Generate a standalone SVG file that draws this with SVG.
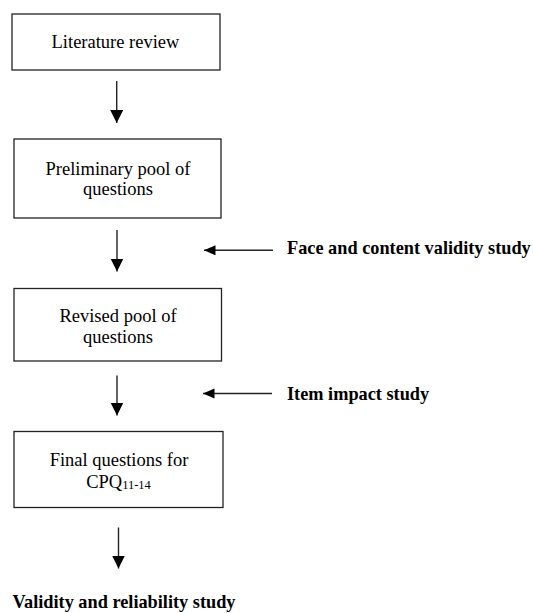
<svg xmlns="http://www.w3.org/2000/svg" width="533" height="613" viewBox="0 0 533 613">
<defs>
<style>
.box{fill:#fff;stroke:#222;stroke-width:1.3}
.t{font-family:"Liberation Serif","Times New Roman",serif;font-size:18.5px;fill:#000;text-anchor:middle}
.b{font-family:"Liberation Serif","Times New Roman",serif;font-size:18.3px;font-weight:bold;fill:#000}
.sub{font-size:12.5px}
.ln{stroke:#222;stroke-width:1.4;fill:none}
</style>
<marker id="hv" markerUnits="userSpaceOnUse" markerWidth="14" markerHeight="14" viewBox="0 0 14 14" refX="13" refY="6.5" orient="auto">
<path d="M0,0 L13,6.5 L0,13 z" fill="#000"/>
</marker>
<marker id="hh" markerUnits="userSpaceOnUse" markerWidth="12" markerHeight="11" viewBox="0 0 12 11" refX="11.5" refY="5" orient="auto">
<path d="M0,0 L11.5,5 L0,10 z" fill="#000"/>
</marker>
</defs>
<rect width="533" height="613" fill="#fff"/>
<g id="n1">
<rect class="box" x="12" y="14" width="208" height="56"/>
<text class="t" x="115.5" y="47.5">Literature review</text>
</g>
<g id="n2">
<rect class="box" x="14" y="139" width="207" height="79"/>
<text class="t" x="118" y="174.5">Preliminary pool of</text>
<text class="t" x="118" y="195">questions</text>
</g>
<g id="n3">
<rect class="box" x="14" y="288.5" width="207.5" height="72.5"/>
<text class="t" x="118" y="321.7">Revised pool of</text>
<text class="t" x="118" y="343.3">questions</text>
</g>
<g id="n4">
<rect class="box" x="14" y="431.5" width="209" height="76"/>
<text class="t" x="119" y="465.7">Final questions for</text>
<text class="t" x="118.5" y="488.3">CPQ<tspan class="sub" dy="1">11-14</tspan></text>
</g>
<g id="l1"><text class="b" x="287" y="253.5">Face and content validity study</text></g>
<g id="l2"><text class="b" x="287" y="400">Item impact study</text></g>
<g id="l3"><text class="b" x="12.5" y="607.5">Validity and reliability study</text></g>
<g id="connectors">
<line class="ln" x1="116.7" y1="81" x2="116.7" y2="123" marker-end="url(#hv)"/>
<line class="ln" x1="117" y1="230" x2="117" y2="271.5" marker-end="url(#hv)"/>
<line class="ln" x1="117" y1="375.5" x2="117" y2="415.5" marker-end="url(#hv)"/>
<line class="ln" x1="118.5" y1="527.5" x2="118.5" y2="568.5" marker-end="url(#hv)"/>
<line class="ln" x1="273" y1="250.3" x2="204" y2="250.3" marker-end="url(#hh)"/>
<line class="ln" x1="272" y1="393.5" x2="203" y2="393.5" marker-end="url(#hh)"/>
</g>
</svg>
